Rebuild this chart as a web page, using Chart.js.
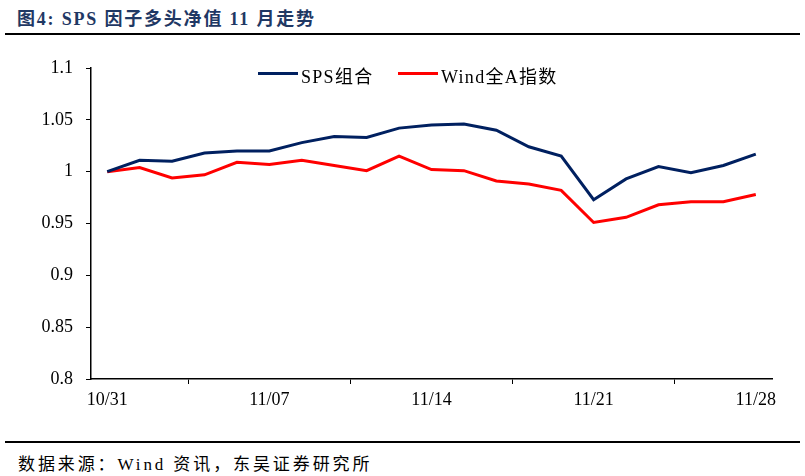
<!DOCTYPE html>
<html>
<head>
<meta charset="utf-8">
<script src="https://cdn.jsdelivr.net/npm/chart.js@4.4.1/dist/chart.umd.min.js"></script>
<style>
    body { margin: 0; width: 805px; height: 476px; background: #fff; position: relative; overflow: hidden; font-family: "Liberation Serif", "Noto Sans CJK SC", serif; }
    #title { position: absolute; left: 17px; top: 4px; font-size: 18px; letter-spacing: 1.8px; font-weight: bold; color: #1F3864; white-space: nowrap; }
    #title-line { position: absolute; left: 5px; top: 33px; width: 795px; height: 2px; background: #000; }
    #chart-box { position: absolute; left: 0; top: 40px; width: 805px; height: 390px; }
    #legend { position: absolute; top: 62px; left: 258px; font-size: 18px; letter-spacing: 1.3px; white-space: nowrap; }
    .item { position: absolute; top: 0; }
    .swatch { position: absolute; top: 10px; width: 40px; height: 3px; }
    .label { position: absolute; top: 0; left: 43px; }
    #foot-line { position: absolute; left: 5px; top: 441px; width: 795px; height: 2px; background: #000; }
    #source { position: absolute; left: 18px; top: 450px; font-size: 17px; letter-spacing: 2.9px; color: #000; white-space: nowrap; }
</style>
</head>
<body>
<div id="title">图4: SPS 因子多头净值 11 月走势</div>
<div id="title-line"></div>
<div id="chart-box"><canvas id="line-chart"></canvas></div>
<div id="legend">
    <div class="item" style="left:0"><div class="swatch" style="background:#002060"></div><div class="label">SPS组合</div></div>
    <div class="item" style="left:140px"><div class="swatch" style="background:#FF0000"></div><div class="label">Wind全A指数</div></div>
</div>
<div id="foot-line"></div>
<div id="source">数据来源：Wind 资讯，东吴证券研究所</div>

<script>
// trading days in November
const dates = ['10/31', '11/01', '11/02', '11/03', '11/04', '11/07', '11/08', '11/09', '11/10', '11/11',
    '11/14', '11/15', '11/16', '11/17', '11/18', '11/21', '11/22', '11/23', '11/24', '11/25', '11/28'];

const spsValues = [1.000, 1.011, 1.010, 1.018, 1.020, 1.020, 1.028, 1.034, 1.033, 1.042,
    1.045, 1.046, 1.040, 1.024, 1.015, 0.973, 0.993, 1.005, 0.999, 1.006, 1.017];

const windValues = [1.000, 1.004, 0.994, 0.997, 1.009, 1.007, 1.011, 1.006, 1.001, 1.015,
    1.002, 1.001, 0.991, 0.988, 0.982, 0.951, 0.956, 0.968, 0.971, 0.971, 0.978];

const yTicks = [0.8, 0.85, 0.9, 0.95, 1, 1.05, 1.1];

function main() {
    const canvas = document.querySelector('#line-chart');
    const tickFont = { family: '"Liberation Serif", serif', size: 18 };

    new Chart(canvas.getContext('2d'), {
        type: 'line',
        data: {
            labels: dates,
            datasets: [
                { label: 'SPS组合', data: spsValues, borderColor: '#002060', borderWidth: 3, pointRadius: 0, tension: 0 },
                { label: 'Wind全A指数', data: windValues, borderColor: '#FF0000', borderWidth: 3, pointRadius: 0, tension: 0 }
            ]
        },
        options: {
            responsive: true,
            maintainAspectRatio: false,
            animation: false,
            layout: { padding: { top: 28, right: 33, left: 0, bottom: 0 } },
            plugins: { legend: { display: false }, tooltip: { enabled: false } },
            scales: {
                x: {
                    offset: true,
                    grid: { offset: true, drawOnChartArea: false, tickLength: 5, color: '#000' },
                    border: { color: '#000', width: 1.5 },
                    ticks: {
                        autoSkip: false, maxRotation: 0, padding: 5, color: '#000', font: tickFont,
                        callback: function(value, index) {
                            // only every fifth day gets a label and tick
                            return index % 5 === 0 ? dates[index] : null;
                        }
                    },
                    afterFit: function(scale) { scale.height = 51; }
                },
                y: {
                    min: 0.8,
                    max: 1.1,
                    afterBuildTicks: function(scale) { scale.ticks = yTicks.map(v => ({ value: v })); },
                    grid: { drawOnChartArea: false, tickLength: 5, color: '#000' },
                    border: { color: '#000', width: 1.5 },
                    ticks: { padding: 13, color: '#000', font: tickFont, callback: v => String(parseFloat(v.toFixed(2))) },
                    afterFit: function(scale) { scale.width = 91; }
                }
            }
        }
    });
}

main()
</script>
</body>
</html>
